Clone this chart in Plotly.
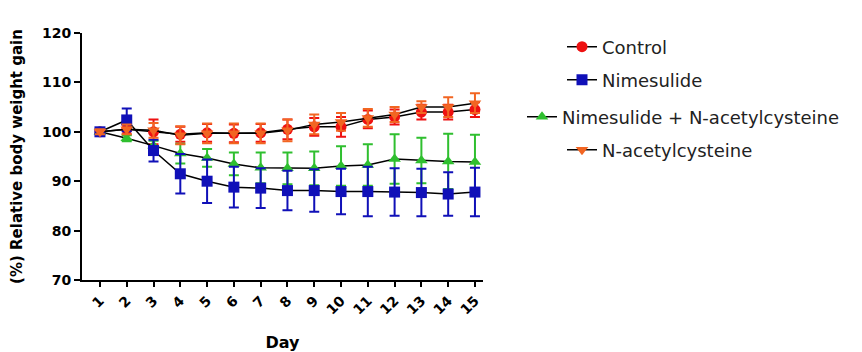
import plotly.graph_objects as go

days = list(range(1, 16))
tick_labels = [str(d) for d in days]

control = [100, 100.5, 100.0, 99.5, 99.8, 99.7, 99.8, 100.5, 101.0, 101.0, 102.5, 103.0, 104.0, 104.0, 104.5]
control_err = [0.5, 1.0, 2.5, 1.5, 1.8, 1.8, 1.8, 2.0, 1.8, 2.0, 1.8, 1.5, 1.5, 1.5, 1.5]

nimesulide = [100, 102.4, 96.2, 91.5, 90.0, 88.8, 88.6, 88.1, 88.1, 87.9, 87.9, 87.8, 87.7, 87.4, 87.8]
nimesulide_err = [0.5, 2.3, 2.2, 4.0, 4.4, 4.1, 4.0, 4.0, 4.3, 4.6, 5.0, 4.8, 4.8, 4.4, 4.9]

nim_nac = [100, 98.7, 97.2, 95.6, 94.7, 93.5, 92.7, 92.6, 92.6, 93.1, 93.3, 94.5, 94.2, 94.0, 93.9]
nim_nac_err = [0.5, 0.6, 1.0, 2.0, 1.8, 2.3, 3.1, 3.2, 3.4, 4.0, 4.2, 5.0, 4.6, 5.6, 5.5]

nac = [100, 100.5, 100.3, 99.3, 99.7, 99.7, 99.7, 100.3, 101.5, 102.0, 102.8, 103.5, 105.0, 105.0, 105.8]
nac_err = [0.5, 1.0, 1.5, 1.8, 2.0, 2.0, 2.0, 2.2, 2.0, 1.8, 1.8, 1.5, 1.2, 2.0, 2.0]

series = [
    # name, values, errors, color, symbol, legend id
    ("Control", control, control_err, "#ee1111", "circle", "legend"),
    ("Nimesulide + N-acetylcysteine", nim_nac, nim_nac_err, "#2fbf2f", "triangle-up", "legend3"),
    ("Nimesulide", nimesulide, nimesulide_err, "#1010b8", "square", "legend2"),
    ("N-acetylcysteine", nac, nac_err, "#f26522", "triangle-down", "legend4"),
]

fig = go.Figure()
for name, vals, errs, color, sym, leg in series:
    fig.add_trace(go.Scatter(
        x=days, y=vals, name=name, mode="lines+markers", legend=leg,
        line=dict(color="black", width=1.5),
        marker=dict(color=color, symbol=sym, size=11),
        error_y=dict(type="data", array=errs, visible=True, color=color,
                     thickness=2, width=5),
    ))

font_main = "DejaVu Sans, Verdana, sans-serif"
# page body has an 8px margin, so the figure is 8px smaller each way
W, H = 854, 344


def leg(xpx, ypx):
    return dict(xref="container", yref="container", x=xpx / W, y=1 - ypx / H,
                xanchor="left", yanchor="middle", itemwidth=30,
                font=dict(size=18, family=font_main, color="#222"),
                bgcolor="rgba(0,0,0,0)")


fig.update_layout(
    width=W, height=H,
    margin=dict(l=74, r=379, t=25, b=72, autoexpand=False),
    paper_bgcolor="white", plot_bgcolor="white",
    font=dict(family=font_main, color="black"),
    showlegend=True,
    legend=leg(554, 39),
    legend2=leg(554, 72),
    legend3=leg(514, 109),
    legend4=leg(554, 142),
    xaxis=dict(
        tickmode="array", tickvals=days, ticktext=tick_labels,
        range=[0.33, 15.3], showline=True, linecolor="black", linewidth=2,
        ticks="outside", ticklen=5, tickwidth=2, tickcolor="black",
        tickangle=-45, showgrid=False, zeroline=False, automargin=False,
        tickfont=dict(size=14, family=font_main, weight="bold"),
        title=dict(text="Day", font=dict(size=16, weight="bold"), standoff=20),
    ),
    yaxis=dict(
        range=[70, 120], dtick=10, showline=True, linecolor="black", linewidth=2,
        ticks="outside", ticklen=6, tickwidth=2, tickcolor="black",
        showgrid=False, zeroline=False, automargin=False,
        tickfont=dict(size=14, family=font_main, weight="bold"),
        title=dict(text="(%) Relative body weight gain",
                   font=dict(size=15, weight="bold"), standoff=17),
    ),
)

fig.write_html("out.html")
